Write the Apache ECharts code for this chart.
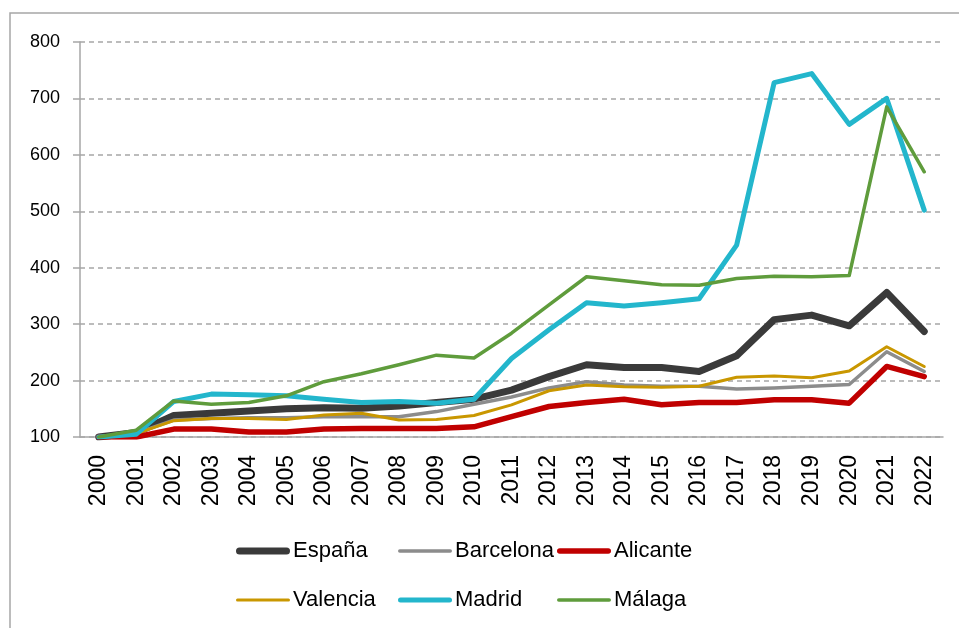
<!DOCTYPE html>
<html>
<head>
<meta charset="utf-8">
<title>Precio índice</title>
<script src="https://cdn.jsdelivr.net/npm/echarts@6/dist/echarts.min.js"></script>
<style>
  html, body { margin: 0; padding: 0; background: #fff; }
</style>
</head>
<body>
<div id="main" style="width:959px;height:628px;"></div>
<script>
// years on the x axis
var years = ['2000','2001','2002','2003','2004','2005','2006','2007','2008','2009','2010',
             '2011','2012','2013','2014','2015','2016','2017','2018','2019','2020','2021','2022'];

// index values (2000 = 100)
var espana    = [100,108,138,142,146,150,152,151,155,161,167,183,207,228,223,223,216,244,308,316,297,356,287];
var barcelona = [100,107,130,133,134,134,136,136,136,145,158,171,187,198,192,190,190,185,187,190,193,251,216];
var alicante  = [100,100,114,114,109,109,114,115,115,115,118,136,154,161,167,157,161,161,166,166,160,225,207];
var valencia  = [100,106,129,133,133,131,139,142,130,131,138,157,182,192,189,188,190,206,208,205,217,260,225];
var madrid    = [100,105,163,176,175,173,167,161,163,160,167,239,290,338,332,338,345,440,728,744,654,700,502];
var malaga    = [100,112,164,158,161,173,198,212,228,245,240,284,334,384,377,370,369,381,385,384,386,685,570];

var yTicks = [100, 200, 300, 400, 500, 600, 700, 800];

var myChart = echarts.init(document.getElementById('main'));

function line(name, data, color, width) {
    return {
        name: name,
        type: 'line',
        data: data,
        symbol: 'none',
        animation: false,
        lineStyle: { color: color, width: width, cap: 'round', join: 'round' },
        itemStyle: { color: color }
    };
}

// rounded bar used as legend key, h = thickness
function pill(h) {
    var w = 54, r = h / 2;
    return 'path://M' + r + ',0 L' + (w - r) + ',0 A' + r + ',' + r + ' 0 0 1 ' + (w - r) + ',' + h +
           ' L' + r + ',' + h + ' A' + r + ',' + r + ' 0 0 1 ' + r + ',0 Z';
}

var legendText = { fontFamily: 'Liberation Sans', fontSize: 22, color: '#000', lineHeight: 24, padding: [0, 0, 0, -2] };

function legendCol(left, items) {
    return {
        orient: 'vertical',
        left: left,
        top: 534,
        itemWidth: 54,
        itemHeight: 14,
        itemGap: 25,
        symbolKeepAspect: true,
        data: items,
        textStyle: legendText
    };
}

var option = {
    backgroundColor: '#fff',
    animation: false,
    graphic: [{
        type: 'rect',
        shape: { x: 10, y: 13, width: 960, height: 630 },
        style: { fill: null, stroke: '#a6a6a6', lineWidth: 1.5 },
        silent: true
    }],
    legend: [
        legendCol(231, [{ name: 'España', icon: pill(7) }, { name: 'Valencia', icon: pill(3) }]),
        legendCol(393, [{ name: 'Barcelona', icon: pill(3.5) }, { name: 'Madrid', icon: pill(5) }]),
        legendCol(552, [{ name: 'Alicante', icon: pill(5.5) }, { name: 'Málaga', icon: pill(3.5) }])
    ],
    grid: { left: 80, right: 16, top: 42, bottom: 191, containLabel: false },
    xAxis: {
        type: 'category',
        data: years,
        boundaryGap: true,
        axisLine: { lineStyle: { color: '#a6a6a6', width: 1.5 } },
        axisTick: { alignWithLabel: false, length: 8, lineStyle: { color: '#a6a6a6', width: 1.5 } },
        axisLabel: {
            rotate: 90,
            margin: 18,
            fontFamily: 'Liberation Sans',
            fontSize: 23,
            color: '#000',
            interval: 0
        }
    },
    yAxis: {
        type: 'value',
        min: yTicks[0],
        max: yTicks[yTicks.length - 1],
        interval: 100,
        axisLine: { show: true, lineStyle: { color: '#a6a6a6', width: 1.5 } },
        axisTick: { show: true, length: 7, lineStyle: { color: '#a6a6a6', width: 1.5 } },
        axisLabel: {
            margin: 20,
            fontFamily: 'Liberation Sans',
            fontSize: 18,
            color: '#000'
        },
        splitLine: { lineStyle: { color: '#a6a6a6', width: 1.5, type: [5, 4] } }
    },
    series: [
        line('España', espana, '#3a3a3a', 7),
        line('Barcelona', barcelona, '#8c8c8c', 3.5),
        line('Alicante', alicante, '#c00000', 5.5),
        line('Valencia', valencia, '#c99700', 3),
        line('Madrid', madrid, '#23b6cc', 5),
        line('Málaga', malaga, '#5f9c3c', 3.5)
    ]
};

myChart.setOption(option);
</script>
</body>
</html>
